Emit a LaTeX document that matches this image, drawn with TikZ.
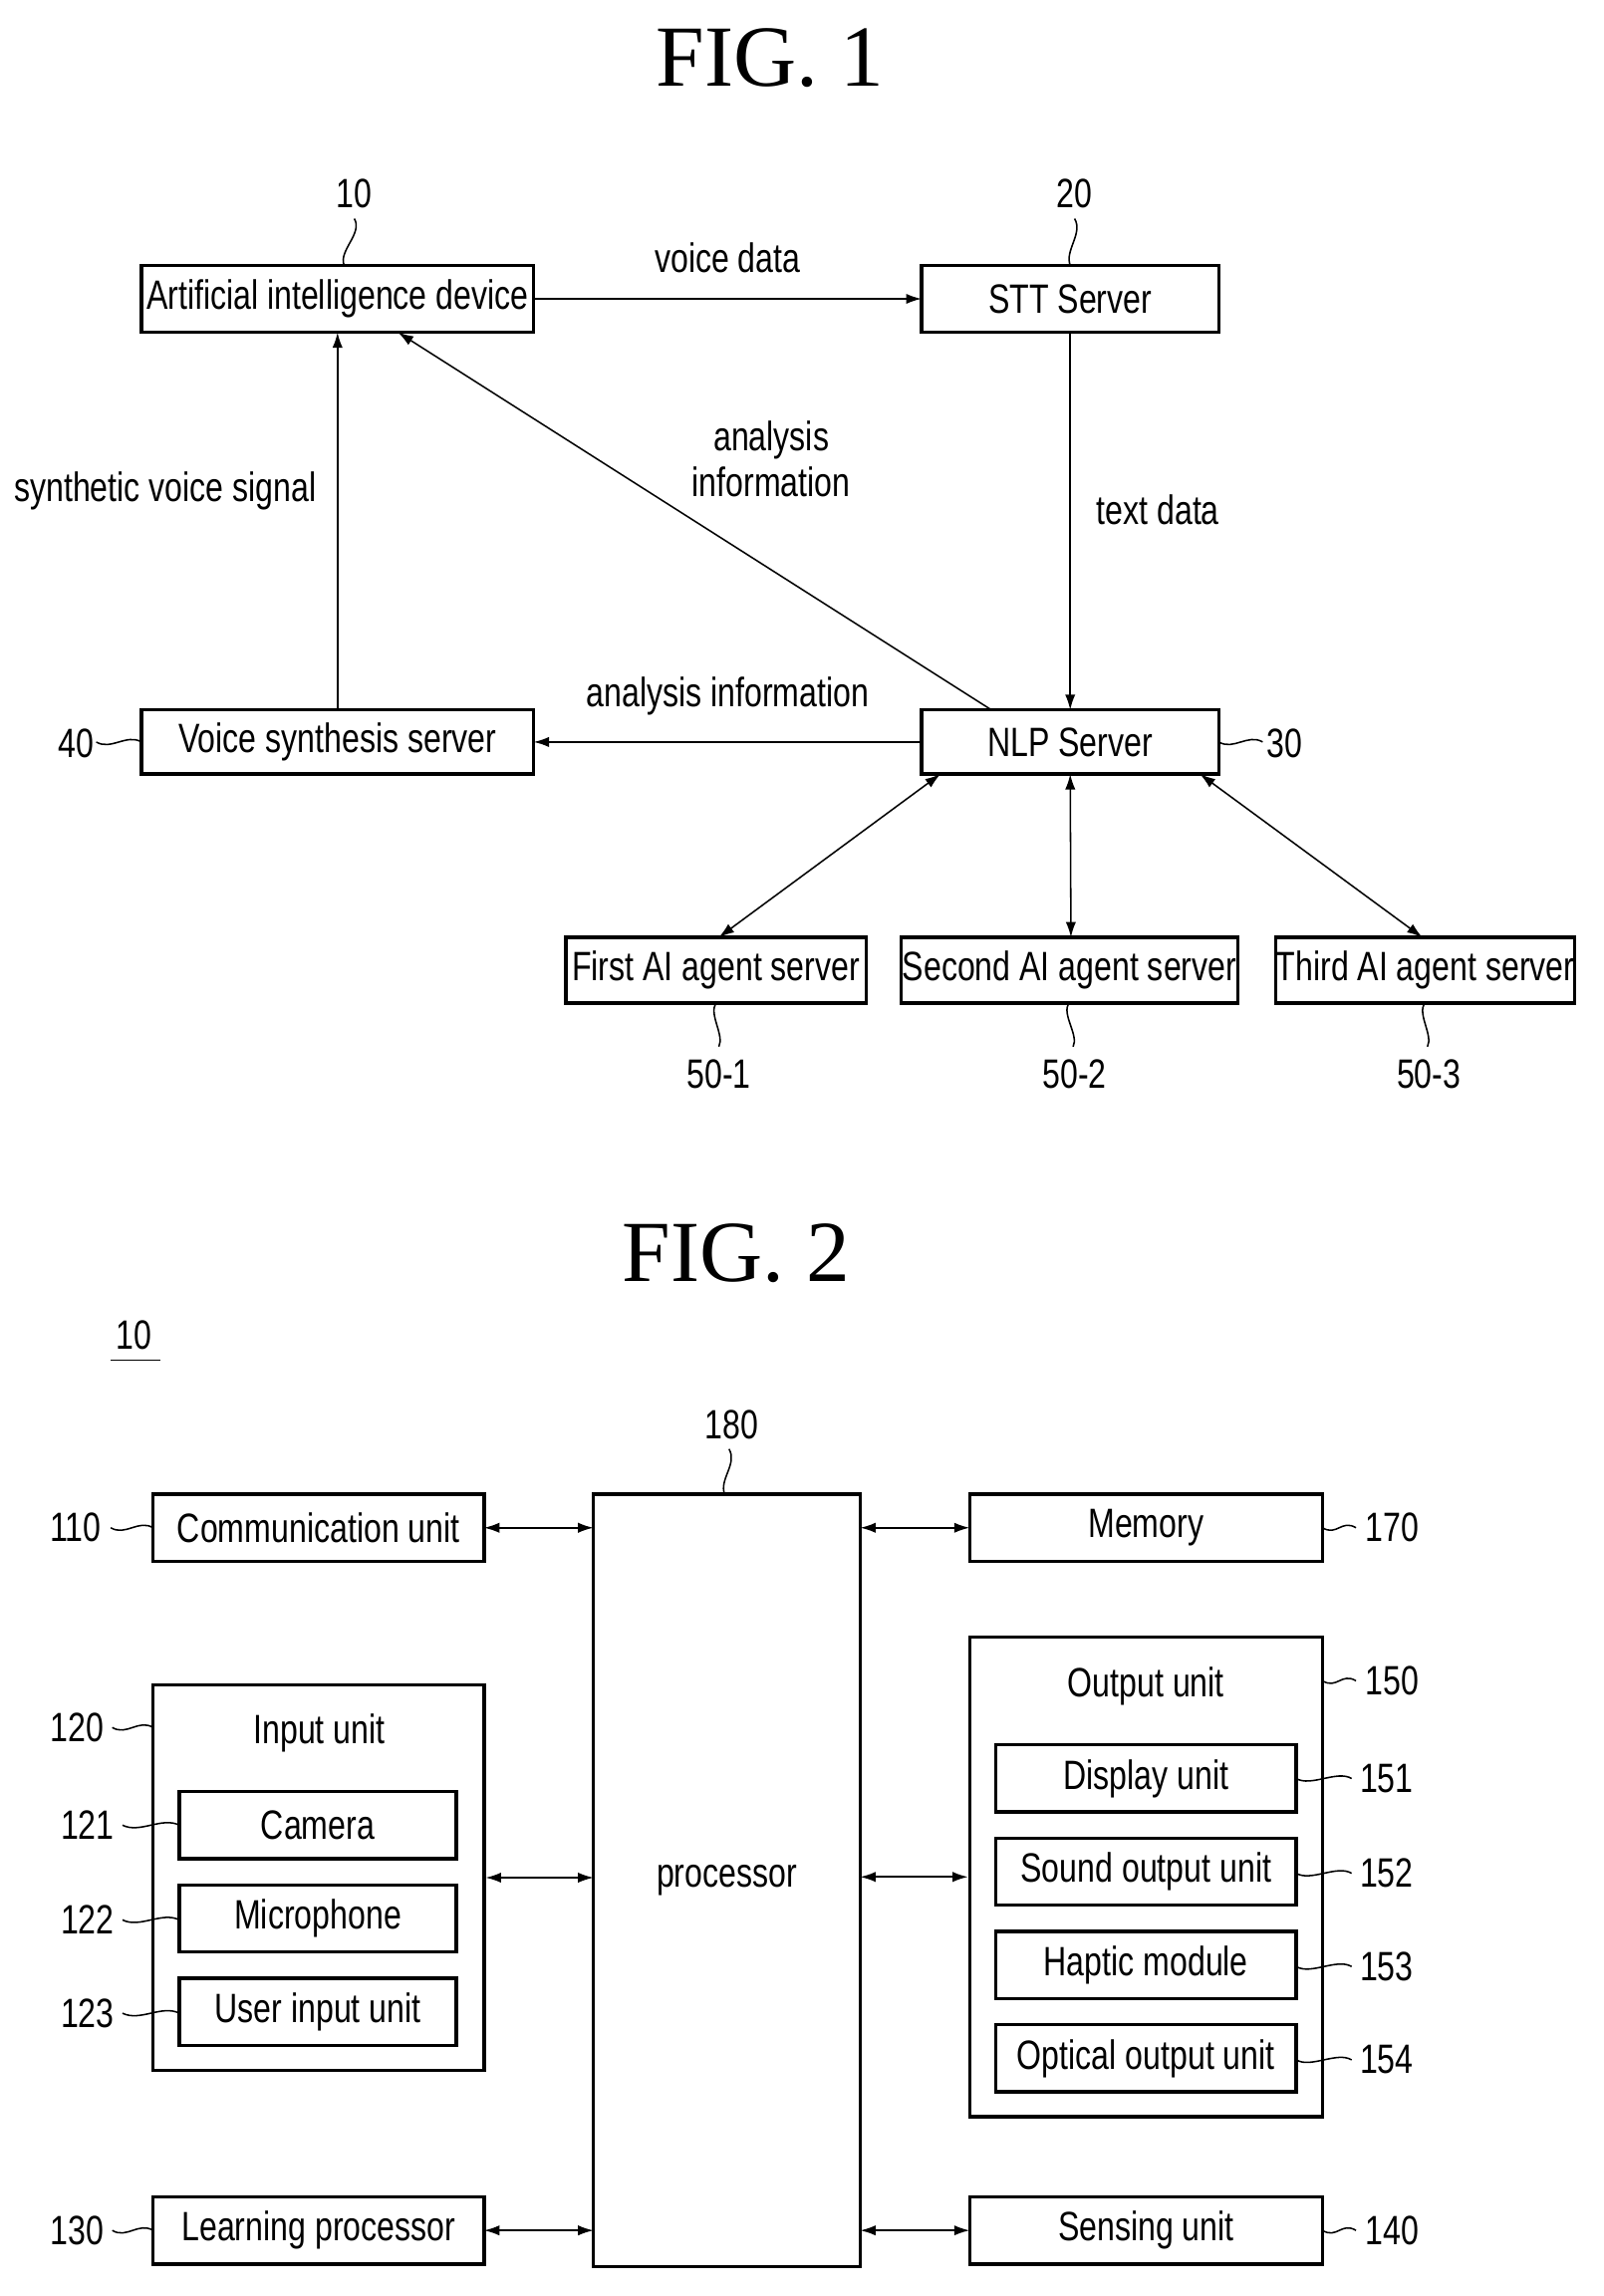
\documentclass[tikz,border=0pt]{standalone}
\usepackage{fontspec}
\setmainfont{Liberation Sans}[FakeStretch=0.78]
\newfontfamily\serifT{Liberation Serif}
\usetikzlibrary{arrows.meta,calc}
\newcommand\bx[6]{\node[box,minimum width={(#4-#2)*0.02cm},minimum height={(#5-#3)*0.02cm}] (#1) at ({(#2+#4)/2},{(#3+#5)/2}) {#6};}
\begin{document}
\begin{tikzpicture}[x=0.02cm,y=-0.02cm,
 box/.style={draw,line width=1.3pt,inner sep=0,outer sep=0,font=\fontsize{16}{18}\selectfont},
 txt/.style={font=\fontsize{16}{18}\selectfont,inner sep=0},
 ar/.style={line width=0.6pt,-{Latex[length=6pt,width=4pt]}},
 dar/.style={line width=0.6pt,{Latex[length=6pt,width=4pt]}-{Latex[length=6pt,width=4pt]}},
 lead/.style={line width=0.6pt},
 title/.style={font=\serifT\fontsize{34}{38}\selectfont}]
\useasboundingbox (0,0) rectangle (1100,1575);
\node[title] (t1) at (528,40) {FIG. 1};
\bx{n10}{97}{182}{366}{228}{Artificial intelligence device}
\bx{n20}{632}{182}{836}{228}{STT Server}
\bx{n30}{632}{487}{836}{531}{NLP Server}
\bx{n40}{97}{487}{366}{531}{Voice synthesis server}
\bx{a1}{388}{643}{594}{688}{First AI agent server}
\bx{a2}{618}{643}{849}{688}{Second AI agent server}
\bx{a3}{875}{643}{1080}{688}{Third AI agent server}
\node[txt] (l10) at (243,133) {10};
\node[txt] (l20) at (737,133) {20};
\node[txt] (l30) at (881,510) {30};
\node[txt] (l40) at (52,510) {40};
\node[txt] (l51) at (493,737) {50-1};
\node[txt] (l52) at (737,737) {50-2};
\node[txt] (l53) at (980,737) {50-3};
\draw[lead] (243,150) .. controls +(6,10) and +(-4,-10) .. (236,182);
\draw[lead] (737,150) .. controls +(6,10) and +(-4,-10) .. (734,182);
\draw[lead] (836,509) .. controls +(10,6) and +(-10,-6) .. (866,509);
\draw[lead] (66,509) .. controls +(10,6) and +(-10,-6) .. (97,509);
\draw[lead] (491,688) .. controls +(-5,8) and +(4,-8) .. (493,718);
\draw[lead] (733,688) .. controls +(-5,8) and +(4,-8) .. (736,718);
\draw[lead] (977,688) .. controls +(-5,8) and +(4,-8) .. (979,718);
\draw[ar] (n10.east) -- node[txt,above=10pt] (lv) {voice data} (n20.west);
\draw[ar] (n20.south) -- node[txt,right=10pt,pos=0.47] (lt) {text data} (n30.north);
\draw[ar] (n30.west) -- node[txt,above=10pt] (la) {analysis information} (n40.east);
\draw[ar] (n40.north) -- node[txt,left=8pt,pos=0.58] (ls) {synthetic voice signal} (n10.south);
\coordinate (c30) at ($(n30.north west)+(48,0)$);
\coordinate (c10) at ($(n10.south west)+(176,0)$);
\draw[ar] (c30) -- (c10);
\node[txt,align=center] (la2) at (529,315) {analysis\\information};
\draw[dar] ($(n30.south west)+(13,0)$) -- ($(a1.north)+(2,0)$);
\draw[dar] ($(n30.south)+(0,0)$) -- ($(a2.north)+(1,0)$);
\draw[dar] ($(n30.south east)+(-13,0)$) -- ($(a3.north)+(-2,0)$);

\node[title] (t2) at (505,860) {FIG. 2};
\node[txt] (l10b) at (92,916) {10};
\draw[lead] (76,933) -- (110,933);
\bx{pr}{407}{1025}{590}{1555}{processor}
\bx{com}{105}{1025}{332}{1071}{Communication unit}
\node[draw,line width=1.3pt,inner sep=0,minimum width={227*0.02cm},minimum height={264*0.02cm}] (inp) at (218.5,1288) {};
\node[txt] (inpt) at (219,1189) {Input unit};
\bx{cam}{123}{1229}{313}{1275}{Camera}
\bx{mic}{123}{1293}{313}{1339}{Microphone}
\bx{uin}{123}{1357}{313}{1403}{User input unit}
\bx{lp}{105}{1507}{332}{1553}{Learning processor}
\bx{mem}{665}{1025}{907}{1071}{Memory}
\node[draw,line width=1.3pt,inner sep=0,minimum width={242*0.02cm},minimum height={329*0.02cm}] (out) at (786,1287.5) {};
\node[txt] (outt) at (786,1157) {Output unit};
\bx{dis}{683}{1197}{889}{1243}{Display unit}
\bx{snd}{683}{1261}{889}{1307}{Sound output unit}
\bx{hap}{683}{1325}{889}{1371}{Haptic module}
\bx{opt}{683}{1389}{889}{1435}{Optical output unit}
\bx{sen}{665}{1507}{907}{1553}{Sensing unit}
\node[txt] (l180) at (502,977) {180};
\draw[lead] (500,994) .. controls +(6,10) and +(-4,-10) .. (497,1025);
\node[txt] (l110) at (52,1048) {110};
\node[txt] (l120) at (53,1185) {120};
\node[txt] (l121) at (60,1252) {121};
\node[txt] (l122) at (60,1317) {122};
\node[txt] (l123) at (60,1381) {123};
\node[txt] (l130) at (53,1530) {130};
\node[txt] (l170) at (955,1048) {170};
\node[txt] (l150) at (955,1153) {150};
\node[txt] (l151) at (951,1220) {151};
\node[txt] (l152) at (951,1285) {152};
\node[txt] (l153) at (951,1349) {153};
\node[txt] (l154) at (951,1413) {154};
\node[txt] (l140) at (955,1530) {140};
\foreach \y/\xa/\xb in {1048/76/105,1185/77/105,1530/77/105}
  \draw[lead] (\xa,\y) .. controls +(10,6) and +(-10,-6) .. (\xb,\y);
\foreach \y in {1252,1317,1381}
  \draw[lead] (84,\y) .. controls +(12,6) and +(-12,-6) .. (123,\y);
\foreach \y in {1048,1153,1530}
  \draw[lead] (907,\y) .. controls +(10,6) and +(-10,-6) .. (930,\y);
\foreach \y in {1220,1285,1349,1413}
  \draw[lead] (889,\y) .. controls +(10,6) and +(-10,-6) .. (927,\y);
\draw[dar] (com.east) -- (com.east-|pr.west);
\draw[dar] (inp.east) -- (inp.east-|pr.west);
\draw[dar] (lp.east) -- (lp.east-|pr.west);
\draw[dar] (mem.west-|pr.east) -- (mem.west);
\draw[dar] (out.west-|pr.east) -- (out.west);
\draw[dar] (sen.west-|pr.east) -- (sen.west);
\end{tikzpicture}
\end{document}
